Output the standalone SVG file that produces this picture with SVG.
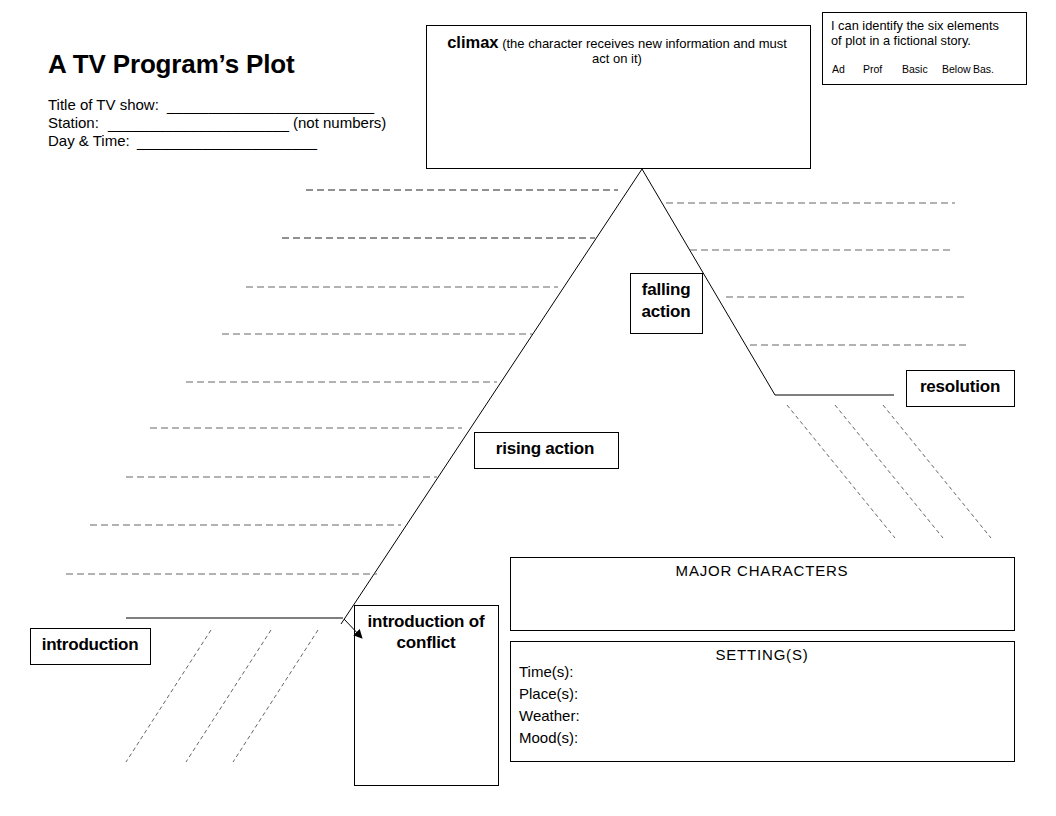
<svg xmlns="http://www.w3.org/2000/svg" width="1056" height="816" viewBox="0 0 1056 816">
<defs>
<style>
text{font-family:"Liberation Sans",Arial,sans-serif;fill:#000}
.box{fill:#fff;stroke:#000;stroke-width:1}
.lbl{font-size:17px;font-weight:bold;text-anchor:middle;letter-spacing:-0.2px}
.sm{font-size:15px}
.hd{font-size:15px;text-anchor:middle;letter-spacing:0.8px}
.solid{stroke:#000;stroke-width:1;fill:none}
.dash{stroke:#666;stroke-width:1.2;stroke-dasharray:7 4;fill:none}
.dashd{stroke:#222;stroke-width:1;stroke-dasharray:7 4;fill:none}
.diag{stroke:#555;stroke-width:0.9;stroke-dasharray:4 3;fill:none}
</style>
<marker id="ah" viewBox="0 0 10 10" refX="9" refY="5" markerWidth="9" markerHeight="9" orient="auto" markerUnits="userSpaceOnUse">
<path d="M0,0 L10,5 L0,10 z" fill="#000"/>
</marker>
</defs>
<rect width="1056" height="816" fill="#fff"/>

<g id="header">
<text x="48" y="73" font-size="26" font-weight="bold" letter-spacing="-0.15">A TV Program’s Plot</text>
<text x="48" y="110" class="sm">Title of TV show:</text>
<text x="167" y="111" class="sm" textLength="207" lengthAdjust="spacingAndGlyphs">_________________________</text>
<text x="48" y="128" class="sm">Station:</text>
<text x="108" y="129" class="sm" textLength="181" lengthAdjust="spacingAndGlyphs">______________________</text>
<text x="293" y="128" class="sm">(not numbers)</text>
<text x="48" y="146" class="sm">Day &amp; Time:</text>
<text x="137" y="147" class="sm" textLength="180" lengthAdjust="spacingAndGlyphs">______________________</text>
</g>

<g id="climax">
<rect class="box" x="426.5" y="25.5" width="384" height="143"/>
<text x="617" y="48" text-anchor="middle"><tspan font-size="16.5" font-weight="bold">climax</tspan><tspan font-size="13"> (the character receives new information and must</tspan></text>
<text x="617" y="63" text-anchor="middle" font-size="13">act on it)</text>
</g>

<g id="objective">
<rect class="box" x="822.5" y="12.5" width="204" height="72"/>
<text x="831" y="30" font-size="12.8">I can identify the six elements</text>
<text x="831" y="45" font-size="12.8">of plot in a fictional story.</text>
<text y="73" font-size="10.5"><tspan x="832">Ad</tspan><tspan x="863">Prof</tspan><tspan x="902">Basic</tspan><tspan x="942">Below</tspan><tspan x="973">Bas.</tspan></text>
</g>

<g id="falling-action">
<rect class="box" x="630.5" y="273.5" width="72" height="60"/>
<text x="666" y="295" class="lbl">falling</text>
<text x="666" y="317" class="lbl">action</text>
</g>

<g id="resolution">
<rect class="box" x="906.5" y="370.5" width="108" height="36"/>
<text x="960" y="392" class="lbl">resolution</text>
</g>

<g id="rising-action">
<rect class="box" x="474.5" y="432.5" width="144" height="36"/>
<text x="545" y="454" class="lbl">rising action</text>
</g>

<g id="introduction">
<rect class="box" x="30.5" y="628.5" width="120" height="36"/>
<text x="90" y="650" class="lbl">introduction</text>
</g>

<g id="intro-conflict">
<rect class="box" x="354.5" y="605.5" width="144" height="180"/>
<text x="426" y="627" class="lbl">introduction of</text>
<text x="426" y="648" class="lbl">conflict</text>
</g>

<g id="major-characters">
<rect class="box" x="510.5" y="557.5" width="504" height="73"/>
<text x="762" y="576" class="hd">MAJOR CHARACTERS</text>
</g>

<g id="settings">
<rect class="box" x="510.5" y="641.5" width="504" height="120"/>
<text x="762" y="660" class="hd">SETTING(S)</text>
<text x="519" y="677" class="sm">Time(s):</text>
<text x="519" y="699" class="sm">Place(s):</text>
<text x="519" y="721" class="sm">Weather:</text>
<text x="519" y="743" class="sm">Mood(s):</text>
</g>

<g id="connectors">
<polyline class="solid" points="341,624 642,169 775,395 894,395"/>
<line class="solid" x1="126" y1="618" x2="343" y2="618"/>
<line class="solid" x1="344" y1="619" x2="362" y2="638" marker-end="url(#ah)"/>
<g id="left-dashes">
<line class="dashd" x1="306" y1="190" x2="618" y2="190"/>
<line class="dashd" x1="282" y1="238" x2="595" y2="238"/>
<line class="dash" x1="246" y1="287" x2="558" y2="287"/>
<line class="dash" x1="222" y1="334" x2="532" y2="334"/>
<line class="dash" x1="186" y1="382" x2="497" y2="382"/>
<line class="dash" x1="150" y1="428" x2="462" y2="428"/>
<line class="dash" x1="126" y1="477" x2="437" y2="477"/>
<line class="dash" x1="90" y1="525" x2="401" y2="525"/>
<line class="dash" x1="66" y1="574" x2="377" y2="574"/>
</g>
<g id="right-dashes">
<line class="dash" x1="666" y1="203" x2="955" y2="203"/>
<line class="dash" x1="690" y1="250" x2="952" y2="250"/>
<line class="dash" x1="726" y1="297" x2="966" y2="297"/>
<line class="dash" x1="750" y1="345" x2="966" y2="345"/>
</g>
<g id="diagonals">
<line class="diag" x1="211" y1="630" x2="126" y2="762"/>
<line class="diag" x1="271" y1="630" x2="186" y2="762"/>
<line class="diag" x1="318" y1="630" x2="233" y2="762"/>
<line class="diag" x1="787" y1="405" x2="895" y2="538"/>
<line class="diag" x1="835" y1="405" x2="943" y2="538"/>
<line class="diag" x1="883" y1="405" x2="991" y2="538"/>
</g>
</g>
</svg>
